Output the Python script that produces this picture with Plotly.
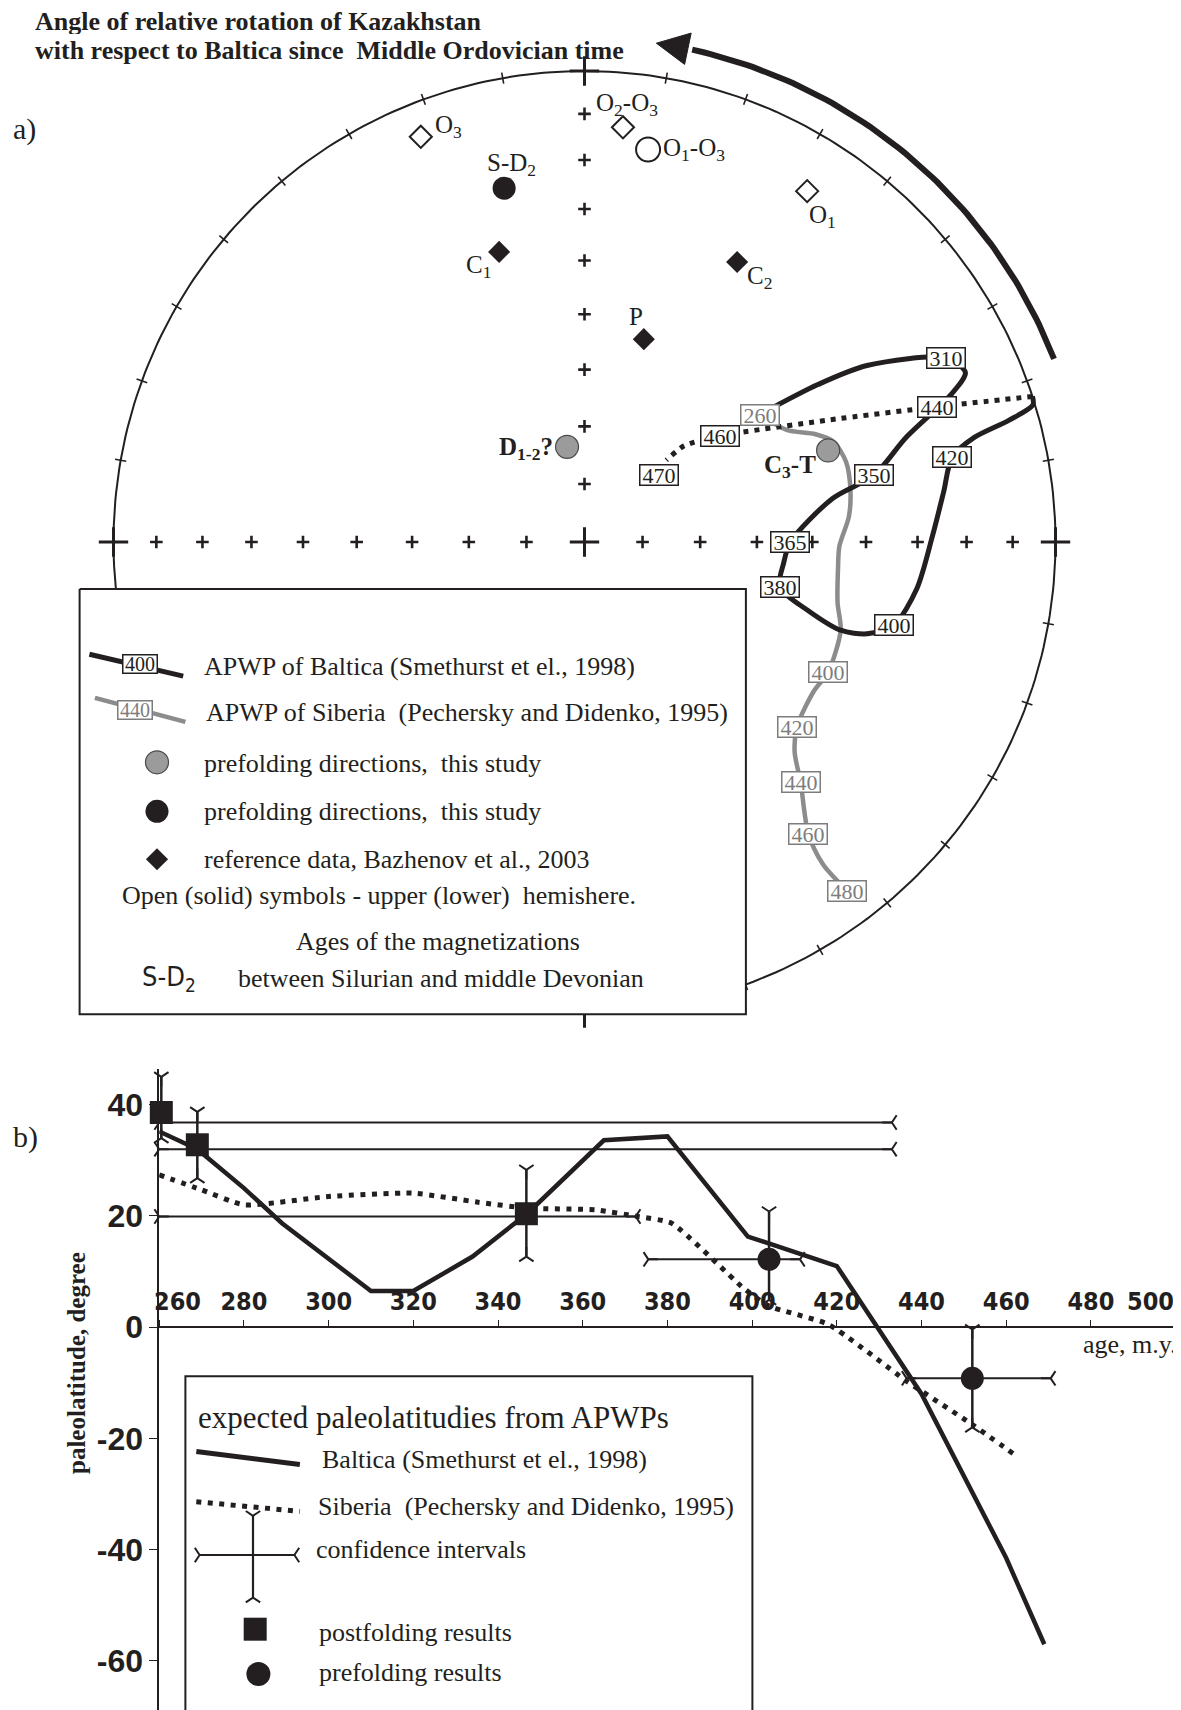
import numpy as np
import plotly.graph_objects as go

PAGE_W, PAGE_H = 1181, 1710
OFF = 8                      # default page margin of the html body
W, H = PAGE_W - OFF, PAGE_H - OFF
INK = "#231f20"
GREY = "#8c8c8c"
SERIF = "Liberation Serif, Times New Roman, serif"
SANS = "Liberation Sans, Arial, sans-serif"
NARROW = "Liberation Sans Narrow, Arial Narrow, DejaVu Sans Condensed, sans-serif"

# ================= panel a data (declination, inclination; inc<0 = upper hemisphere)
REF_LABELS = ["O<sub>3</sub>", "O<sub>2</sub>-O<sub>3</sub>", "O<sub>1</sub>", "C<sub>1</sub>", "C<sub>2</sub>", "P"]
REF_DEC = [338.0, 5.3, 32.4, 343.6, 28.6, 16.3]
REF_INC = [-8.0, -12.6, -12.8, 36.0, 32.8, 53.0]

BLACK_LABELS = ["O<sub>1</sub>-O<sub>3</sub>", "S-D<sub>2</sub>"]
BLACK_DEC = [9.2, 347.2]
BLACK_INC = [-16.7, 24.0]

GREY_LABELS = ["D<sub>1-2</sub>?", "C<sub>3</sub>-T"]
GREY_DEC = [349.6, 69.4]
GREY_INC = [73.3, 44.0]

# APWP of Baltica, lower hemisphere part
BALTICA_DEC = [54, 56, 58, 63, 66, 68, 72, 77, 80, 90, 96, 103, 107, 109, 108, 105, 98, 89, 82, 77, 75, 74, 73, 72]
BALTICA_INC = [52, 40, 30, 15, 12.5, 17, 29, 37, 45.5, 54, 55, 55, 49, 42, 37, 32.5, 29.5, 27, 24, 21, 15.5, 7, 0.5, 0]
BALTICA_AGE = ["", "", "", "310", "", "", "", "350", "", "365", "", "380", "", "", "", "400", "", "", "", "420", "", "", "", ""]
# APWP of Baltica, upper hemisphere part (dotted)
BALTICA_UP_DEC = [72, 69, 63.5, 52, 46, 45]
BALTICA_UP_INC = [0, -21, -41.5, -60, -66, -70]
BALTICA_UP_AGE = ["", "440", "", "460", "", "470"]
# APWP of Siberia
SIBERIA_DEC = [54, 61, 65, 68, 73, 79, 84.5, 91, 96, 103.5, 109, 118, 123, 131, 135, 138, 142.5, 143.5, 143]
SIBERIA_INC = [52, 49.4, 45, 42.5, 41.5, 42, 43, 45, 45, 44, 42, 41, 41.5, 40, 37, 32, 23, 16, 8]
SIBERIA_AGE = ["260", "", "", "", "", "", "", "", "", "", "", "400", "", "420", "", "440", "460", "", "480"]

ROTATION_ARROW_DEC = [68.7, 8.2]   # from, to (arrow tip)

# ================= panel b data
BAL_AGE = [260, 269, 280, 289, 310, 320, 334, 347, 365, 380, 399, 420, 440, 460, 469]
BAL_LAT = [35.2, 32, 25, 18.7, 6.5, 6.5, 12.7, 20.5, 33.6, 34.3, 16.3, 11, -12, -41.5, -57]
SIB_AGE = [260, 270, 280, 300, 320, 335, 347, 363, 373, 381, 398, 404, 418, 436.5, 452, 462.5]
SIB_LAT = [27.4, 24.7, 22, 23.5, 24.1, 22.5, 21.4, 21.1, 19.9, 18.7, 7, 3.8, 0.5, -9.7, -17.5, -23.2]

POST_AGE = [260.5, 269.0, 346.7]
POST_LAT = [38.6, 32.8, 20.4]
POST_LAT_LO = [34.0, 26.8, 12.7]
POST_LAT_HI = [45.0, 38.7, 28.3]
POST_AGE_LO = [260.0, 260.0, 260.0]
POST_AGE_HI = [433.0, 433.0, 372.5]
POST_BAR_LAT = [36.8, 32.0, 19.9]

PRE_AGE = [404.0, 452.0]
PRE_LAT = [12.2, -9.2]
PRE_LAT_LO = [4.9, -18.0]
PRE_LAT_HI = [20.8, -0.4]
PRE_AGE_LO = [375.5, 436.5]
PRE_AGE_HI = [411.3, 470.5]

AGE_TICKS = list(range(260, 501, 20))
LAT_TICKS = [40, 20, 0, -20, -40, -60]

# ================= geometry (page pixels)
NET_CX, NET_CY, NET_R = 584.5, 542.0, 471.0
B_X260, B_PX_PER_MY = 159.2, 4.235
B_Y0, B_PX_PER_DEG = 1327.2, 5.562
LAT_MAX = 46.5
LAT_MIN = -(PAGE_H - B_Y0) / B_PX_PER_DEG
Y2_TOP = (PAGE_H - (B_Y0 - LAT_MAX * B_PX_PER_DEG)) / H
X2_POS = (0 - LAT_MIN) / (LAT_MAX - LAT_MIN) * Y2_TOP
B_X500 = B_X260 + 240 * B_PX_PER_MY


def net_xy(dec, inc):
    d = np.radians(np.asarray(dec, float))
    i = np.radians(np.abs(np.asarray(inc, float)))
    r = np.sqrt(2.0) * np.sin((np.pi / 2 - i) / 2)
    return r * np.sin(d), r * np.cos(d)


fig = go.Figure()
NA = dict(xaxis="x", yaxis="y", hoverinfo="skip", showlegend=False)
NB = dict(xaxis="x2", yaxis="y2", hoverinfo="skip", showlegend=False, cliponaxis=False)
NL = dict(xaxis="x3", yaxis="y3", hoverinfo="skip", showlegend=False, cliponaxis=False)

# ---- primitive circle
t = np.arange(0, 361, 1.0)
cx, cy = net_xy(t, np.zeros_like(t))
fig.add_trace(go.Scatter(x=cx, y=cy, mode="lines", line=dict(color=INK, width=2), **NA))

# ---- 10-degree ticks on the primitive
TK = 0.012
tx, ty = [], []
for d in range(0, 360, 10):
    if d % 90 == 0:
        continue
    s, c = np.sin(np.radians(d)), np.cos(np.radians(d))
    tx += [(1 - TK) * s, (1 + TK) * s, None]
    ty += [(1 - TK) * c, (1 + TK) * c, None]
fig.add_trace(go.Scatter(x=tx, y=ty, mode="lines", line=dict(color=INK, width=1.6), **NA))

# ---- inclination crosses on the N-S and E-W diameters
gd, gi = [], []
for d in (0, 90, 180, 270):
    for i in range(10, 90, 10):
        gd.append(d)
        gi.append(i)
gx, gy = net_xy(gd, gi)
fig.add_trace(go.Scatter(x=gx, y=gy, mode="markers",
                         marker=dict(symbol="cross-thin", size=9, line=dict(color=INK, width=2.6)), **NA))
bx, by = net_xy([0, 90, 180, 270, 0], [0, 0, 0, 0, 90])
fig.add_trace(go.Scatter(x=bx, y=by, mode="markers",
                         marker=dict(symbol="cross-thin", size=21, line=dict(color=INK, width=3)), **NA))

# ---- rotation arrow (outside the primitive)
AR = 1.07
head_len = 32.0 / NET_R
head_half = 16.0 / NET_R
d_tip = ROTATION_ARROW_DEC[1]
d_base = d_tip + np.degrees(head_len / AR)
arc = np.radians(np.linspace(ROTATION_ARROW_DEC[0], d_base + 0.5, 80))
fig.add_trace(go.Scatter(x=AR * np.sin(arc), y=AR * np.cos(arc), mode="lines",
                         line=dict(color=INK, width=6), **NA))
rt, rb = np.radians(d_tip), np.radians(d_base)
hx = [AR * np.sin(rt), (AR + head_half) * np.sin(rb), (AR - head_half) * np.sin(rb), AR * np.sin(rt)]
hy = [AR * np.cos(rt), (AR + head_half) * np.cos(rb), (AR - head_half) * np.cos(rb), AR * np.cos(rt)]
fig.add_trace(go.Scatter(x=hx, y=hy, mode="lines", fill="toself", fillcolor=INK,
                         line=dict(color=INK, width=1), **NA))

# ---- APWPs
sx, sy = net_xy(SIBERIA_DEC, SIBERIA_INC)
fig.add_trace(go.Scatter(x=sx, y=sy, mode="lines", line=dict(color=GREY, width=4.5, shape="spline", smoothing=0.8), **NA))
ux, uy = net_xy(BALTICA_UP_DEC, BALTICA_UP_INC)
fig.add_trace(go.Scatter(x=ux, y=uy, mode="lines",
                         line=dict(color=INK, width=5, dash="5px,6px", shape="spline", smoothing=0.6), **NA))
lx, ly = net_xy(BALTICA_DEC, BALTICA_INC)
fig.add_trace(go.Scatter(x=lx, y=ly, mode="lines", line=dict(color=INK, width=5, shape="spline", smoothing=0.8), **NA))


# ---- directions (open symbol = upper hemisphere, solid = lower)
def split(xs, ys, incs):
    up = [k for k, v in enumerate(incs) if v < 0]
    lo = [k for k, v in enumerate(incs) if v >= 0]
    return ([xs[k] for k in up], [ys[k] for k in up]), ([xs[k] for k in lo], [ys[k] for k in lo])


rx, ry = net_xy(REF_DEC, REF_INC)
(ox, oy), (fx, fy) = split(rx, ry, REF_INC)
fig.add_trace(go.Scatter(x=ox, y=oy, mode="markers",
                         marker=dict(symbol="diamond-open", size=17, color=INK, line=dict(width=2)), **NA))
fig.add_trace(go.Scatter(x=fx, y=fy, mode="markers",
                         marker=dict(symbol="diamond", size=17, color=INK, line=dict(width=0)), **NA))
kx, ky = net_xy(BLACK_DEC, BLACK_INC)
(ox, oy), (fx, fy) = split(kx, ky, BLACK_INC)
fig.add_trace(go.Scatter(x=ox, y=oy, mode="markers",
                         marker=dict(symbol="circle-open", size=24, color=INK, line=dict(width=2)), **NA))
fig.add_trace(go.Scatter(x=fx, y=fy, mode="markers",
                         marker=dict(symbol="circle", size=23, color=INK, line=dict(width=0)), **NA))
qx, qy = net_xy(GREY_DEC, GREY_INC)
fig.add_trace(go.Scatter(x=qx, y=qy, mode="markers",
                         marker=dict(symbol="circle", size=23, color="#9b9b9b",
                                     line=dict(color="#4a4a4a", width=1.2)), **NA))

annotations = []


def lab(x, y, text, size, ref="3", xanchor="left", yanchor="middle", bold=False, family=SERIF,
        color=INK, xshift=0, yshift=0, angle=0, height=None):
    r = "" if ref == "1" else ref
    a = dict(x=x, y=y, xref="x" + r, yref="y" + r,
             text=text, showarrow=False, xanchor=xanchor, yanchor=yanchor,
             xshift=xshift, yshift=yshift, textangle=angle,
             font=dict(family=family, size=size, color=color, weight="bold" if bold else "normal"))
    if height:
        a["height"] = height
    annotations.append(a)


def agebox(x, y, text, ref="1", grey=False, size=22, w=37, h=19, xshift=0, yshift=0):
    col = "#7d7d7d" if grey else INK
    r = "" if ref == "1" else ref
    annotations.append(dict(x=x, y=y, xref="x" + r, yref="y" + r,
                            text=text, showarrow=False, xanchor="center", yanchor="middle",
                            xshift=xshift, yshift=yshift, width=w, height=h, borderpad=0,
                            bgcolor="white", bordercolor=col, borderwidth=1.5,
                            font=dict(family=SERIF, size=size, color=col)))


# direction labels (pixel offsets from the symbol)
REF_LAB_POS = [(12, 10, "left"), (4, 23, "center"), (15, -25, "center"), (-21, -15, "center"),
               (22, -15, "center"), (-8, 23, "center")]
BLACK_LAB_POS = [(13, 0, "left"), (7, 24, "center")]
GREY_LAB_POS = [(-12, -2, "right"), (-38, -16, "center")]
for xs, ys, labels, pos, bold in ((rx, ry, REF_LABELS, REF_LAB_POS, False),
                                  (kx, ky, BLACK_LABELS, BLACK_LAB_POS, False),
                                  (qx, qy, GREY_LABELS, GREY_LAB_POS, True)):
    for x, y, s, (dx, dy, anc) in zip(xs, ys, labels, pos):
        lab(x, y, s, 25, ref="1", xanchor=anc, bold=bold, xshift=dx, yshift=dy)

# age labels on the APWPs
AGE_SHIFT = {"470": (-7, -15)}
for xs, ys, ages, grey in ((lx, ly, BALTICA_AGE, False), (ux, uy, BALTICA_UP_AGE, False), (sx, sy, SIBERIA_AGE, True)):
    for x, y, a in zip(xs, ys, ages):
        if a:
            dx, dy = AGE_SHIFT.get(a, (0, 0))
            agebox(x, y, a, grey=grey, xshift=dx, yshift=dy)

# ================= panel a legend (pixel overlay)
fig.add_trace(go.Scatter(x=[79.6, 745.9, 745.9, 79.6, 79.6], y=[588.9, 588.9, 1014.2, 1014.2, 588.9],
                         mode="lines", fill="toself", fillcolor="white", line=dict(color=INK, width=2), **NL))
fig.add_trace(go.Scatter(x=[89.4, 183.2], y=[654.3, 676.1], mode="lines", line=dict(color=INK, width=5), **NL))
fig.add_trace(go.Scatter(x=[94.9, 185.4], y=[697.9, 721.9], mode="lines", line=dict(color=GREY, width=4.5), **NL))
fig.add_trace(go.Scatter(x=[157], y=[762.3], mode="markers",
                         marker=dict(symbol="circle", size=23, color="#9b9b9b", line=dict(color="#4a4a4a", width=1.2)), **NL))
fig.add_trace(go.Scatter(x=[157], y=[811.3], mode="markers",
                         marker=dict(symbol="circle", size=23, color=INK, line=dict(width=0)), **NL))
fig.add_trace(go.Scatter(x=[157], y=[859.3], mode="markers",
                         marker=dict(symbol="diamond", size=17, color=INK, line=dict(width=0)), **NL))
agebox(139.6, 664.1, "400", ref="3", size=20, w=33, h=17)
agebox(135.2, 709.9, "440", ref="3", grey=True, size=20, w=33, h=17)
lab(201.7, 666.3, "APWP of Baltica (Smethurst et el., 1998)", 26)
lab(203.9, 712.0, "APWP of Siberia\u00a0 (Pechersky and Didenko, 1995)", 26)
lab(201.7, 763.3, "prefolding directions,\u00a0 this study", 26)
lab(201.7, 811.3, "prefolding directions,\u00a0 this study", 26)
lab(201.7, 859.3, "reference data, Bazhenov et al., 2003", 26)
lab(120.0, 895.3, "Open (solid) symbols - upper (lower)\u00a0 hemishere.", 26)
lab(438.4, 941.1, "Ages of the magnetizations", 26, xanchor="center")
lab(139.6, 978.2, "S-D<sub>2</sub>", 27, family=NARROW)
lab(235.5, 978.2, "between Silurian and middle Devonian", 26)

# ================= titles
lab(33, 21.0, "Angle of relative rotation of Kazakhstan", 26, bold=True, height=25)
lab(33, 50.2, "with respect to Baltica since\u00a0 Middle Ordovician time", 26, bold=True)
lab(11, 128.7, "a)", 30)
lab(11, 1137.4, "b)", 30)

# ================= panel b data traces
hx_, hy_ = [], []
for a0, a1, la in zip(POST_AGE_LO + PRE_AGE_LO, POST_AGE_HI + PRE_AGE_HI, POST_BAR_LAT + PRE_LAT):
    hx_ += [a0, a1, None]
    hy_ += [la, la, None]
fig.add_trace(go.Scatter(x=hx_, y=hy_, mode="lines", line=dict(color=INK, width=2), **NB))
fig.add_trace(go.Scatter(x=POST_AGE_LO + PRE_AGE_LO, y=POST_BAR_LAT + PRE_LAT, mode="markers",
                         marker=dict(symbol="y-right", size=12, line=dict(color=INK, width=2)), **NB))
fig.add_trace(go.Scatter(x=POST_AGE_HI + PRE_AGE_HI, y=POST_BAR_LAT + PRE_LAT, mode="markers",
                         marker=dict(symbol="y-left", size=12, line=dict(color=INK, width=2)), **NB))
vx_, vy_ = [], []
for a, l0, l1 in zip(POST_AGE + PRE_AGE, POST_LAT_LO + PRE_LAT_LO, POST_LAT_HI + PRE_LAT_HI):
    vx_ += [a, a, None]
    vy_ += [l0, l1, None]
fig.add_trace(go.Scatter(x=vx_, y=vy_, mode="lines", line=dict(color=INK, width=2.5), **NB))
fig.add_trace(go.Scatter(x=POST_AGE + PRE_AGE, y=POST_LAT_HI + PRE_LAT_HI, mode="markers",
                         marker=dict(symbol="y-down", size=12, line=dict(color=INK, width=2)), **NB))
fig.add_trace(go.Scatter(x=POST_AGE + PRE_AGE, y=POST_LAT_LO + PRE_LAT_LO, mode="markers",
                         marker=dict(symbol="y-up", size=12, line=dict(color=INK, width=2)), **NB))
fig.add_trace(go.Scatter(x=SIB_AGE, y=SIB_LAT, mode="lines",
                         line=dict(color=INK, width=5, dash="5px,6.5px", shape="spline", smoothing=0.5), **NB))
fig.add_trace(go.Scatter(x=BAL_AGE, y=BAL_LAT, mode="lines", line=dict(color=INK, width=4.5), **NB))
fig.add_trace(go.Scatter(x=POST_AGE, y=POST_LAT, mode="markers",
                         marker=dict(symbol="square", size=23, color=INK, line=dict(width=0)), **NB))
fig.add_trace(go.Scatter(x=PRE_AGE, y=PRE_LAT, mode="markers",
                         marker=dict(symbol="circle", size=23, color=INK, line=dict(width=0)), **NB))

# edge tick labels of the age axis (shifted off the axis corners)
lab(260, 0, "260", 25, ref="2", xanchor="center", bold=True, family=NARROW, xshift=18.6, yshift=26)
lab(500, 0, "500", 25, ref="2", xanchor="center", bold=True, family=NARROW, xshift=-25, yshift=26)
lab(1179, 1344.6, "age, m.y.", 26, xanchor="right")
lab(76, 1363, "paleolatitude, degree", 25, xanchor="center", bold=True, angle=-90)

# ================= panel b legend (pixel overlay)
fig.add_trace(go.Scatter(x=[185.4, 185.4, 752.4, 752.4], y=[1720, 1376.2, 1376.2, 1720], mode="lines",
                         line=dict(color=INK, width=2), **NL))
fig.add_trace(go.Scatter(x=[196.3, 299.9], y=[1451.5, 1464.5], mode="lines", line=dict(color=INK, width=5), **NL))
fig.add_trace(go.Scatter(x=[196.3, 299.9], y=[1501.7, 1511.4], mode="lines",
                         line=dict(color=INK, width=5, dash="5px,6.5px"), **NL))
fig.add_trace(go.Scatter(x=[253, 253, None, 199.6, 294.4], y=[1515.8, 1597.6, None, 1555, 1555], mode="lines",
                         line=dict(color=INK, width=2.2), **NL))
fig.add_trace(go.Scatter(x=[253, 253, 199.6, 294.4], y=[1515.8, 1597.6, 1555, 1555], mode="markers",
                         marker=dict(symbol=["y-down", "y-up", "y-right", "y-left"], size=12,
                                     line=dict(color=INK, width=2)), **NL))
fig.add_trace(go.Scatter(x=[255.2], y=[1629.2], mode="markers",
                         marker=dict(symbol="square", size=23, color=INK, line=dict(width=0)), **NL))
fig.add_trace(go.Scatter(x=[258.4], y=[1674.0], mode="markers",
                         marker=dict(symbol="circle", size=24, color=INK, line=dict(width=0)), **NL))
lab(196.3, 1417.7, "expected paleolatitudies from APWPs", 31)
lab(319.5, 1459.1, "Baltica (Smethurst et el., 1998)", 26)
lab(316.2, 1506.0, "Siberia\u00a0 (Pechersky and Didenko, 1995)", 26)
lab(314.0, 1549.6, "confidence intervals", 26)
lab(317.3, 1632.5, "postfolding results", 26)
lab(317.3, 1672.8, "prefolding results", 26)

fig.update_layout(
    width=W, height=H, autosize=False, margin=dict(l=0, r=0, t=0, b=0),
    paper_bgcolor="white", plot_bgcolor="rgba(0,0,0,0)", showlegend=False,
    annotations=annotations,
    xaxis=dict(domain=[0, 1], range=[(OFF - NET_CX) / NET_R, (PAGE_W - NET_CX) / NET_R],
               visible=False, fixedrange=True),
    yaxis=dict(domain=[0, 1], range=[(NET_CY - PAGE_H) / NET_R, (NET_CY - OFF) / NET_R],
               visible=False, fixedrange=True),
    xaxis3=dict(overlaying="x", anchor="y3", range=[OFF, PAGE_W], visible=False, fixedrange=True),
    yaxis3=dict(overlaying="y", anchor="x3", range=[PAGE_H, OFF], visible=False, fixedrange=True),
    xaxis2=dict(domain=[(B_X260 - OFF) / W, (B_X500 - OFF) / W], range=[260, 500], anchor="free",
                position=X2_POS, side="top", showline=True, linecolor=INK, linewidth=1.6,
                showgrid=False, zeroline=False, ticks="outside", ticklen=6, tickwidth=1.4, tickcolor=INK,
                tickvals=AGE_TICKS, ticktext=["" if a in (260, 500) else str(a) for a in AGE_TICKS],
                tickfont=dict(family=NARROW, size=25, color=INK, weight="bold"), fixedrange=True),
    yaxis2=dict(domain=[0, Y2_TOP], range=[LAT_MIN, LAT_MAX], anchor="x2", showline=True, linecolor=INK,
                linewidth=1.6, showgrid=False, zeroline=False, ticks="outside", ticklen=8, tickwidth=1.4,
                tickcolor=INK, tickvals=LAT_TICKS, ticktext=[str(v) for v in LAT_TICKS],
                tickfont=dict(family=SANS, size=32, color=INK, weight="bold"), fixedrange=True),
)

fig.write_html("out.html")
